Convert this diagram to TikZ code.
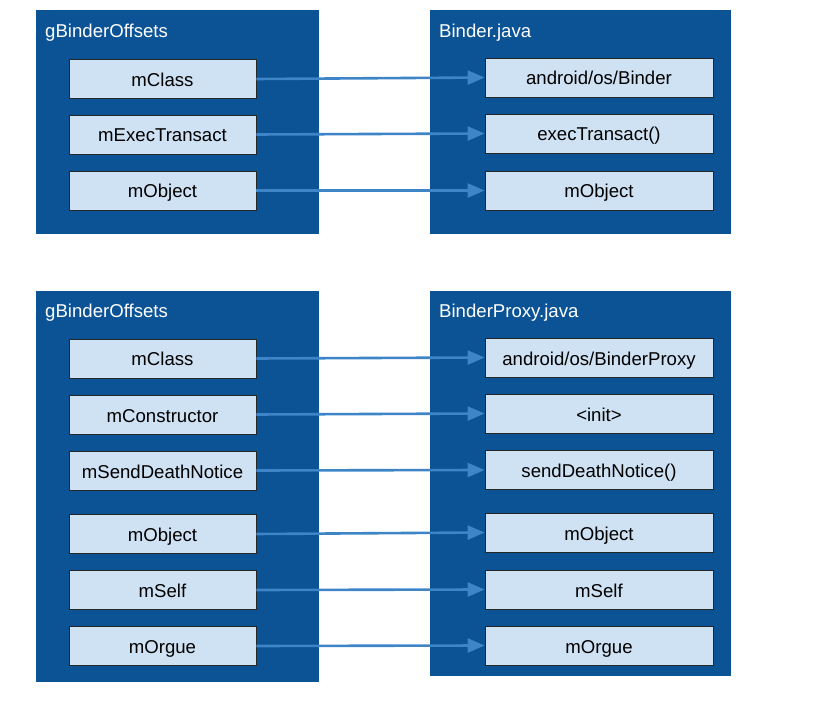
\documentclass[tikz,border=0pt]{standalone}
\usepackage{fontspec}
\setmainfont{Liberation Sans}
\usepackage{xcolor}
\usepackage{tikz}
\usetikzlibrary{arrows.meta,positioning}
\definecolor{panelblue}{HTML}{0B5394}
\definecolor{fieldblue}{HTML}{CFE2F3}
\definecolor{linkblue}{HTML}{3D85C6}

\begin{document}
\begin{tikzpicture}[x=1pt,y=-1pt,
  panel/.style={fill=panelblue,draw=none,anchor=north west,inner sep=0pt},
  field/.style={draw=black!85,line width=0.8pt,fill=fieldblue,minimum height=39pt,
    inner sep=0pt,text height=15pt,text depth=0pt,font=\fontsize{18.6}{22}\selectfont},
  lfield/.style={field,minimum width=187pt},
  rfield/.style={field,minimum width=228pt},
  title/.style={anchor=west,text=white,inner sep=0pt,text height=15pt,text depth=0pt,
    font=\fontsize{18.6}{22}\selectfont},
  link/.style={-{Triangle[length=17pt,width=14pt]},linkblue,line width=2.6pt}
]
\useasboundingbox (0,0) rectangle (820,714);
% upper pair: Binder
\node[panel,minimum width=283pt,minimum height=224pt] (binderoffs) at (36,10) {};
\node[panel,minimum width=301pt,minimum height=224pt] (binderjava) at (430,10) {};
\node[title] (t1) at (45,30.5) {gBinderOffsets};
\node[title] (t2) at (439,30.5) {Binder.java};
\node[lfield] (a1) at (162.5,79) {mClass};
\node[lfield] (a2) at (162.5,134.5) {mExecTransact};
\node[lfield] (a3) at (162.5,190.5) {mObject};
\node[rfield] (b1) at (599,77.5) {android/os/Binder};
\node[rfield] (b2) at (599,133.5) {execTransact()};
\node[rfield] (b3) at (599,190.5) {mObject};
\foreach \i in {1,2,3} \draw[link] (a\i.east) -- (b\i.west);

% lower pair: BinderProxy
\node[panel,minimum width=283pt,minimum height=391pt] (proxyoffs) at (36,291) {};
\node[panel,minimum width=301pt,minimum height=385pt] (proxyjava) at (430,291) {};
\node[title] (t3) at (45,310) {gBinderOffsets};
\node[title] (t4) at (439,310) {BinderProxy.java};
\node[lfield] (c1) at (162.5,358.5) {mClass};
\node[lfield] (c2) at (162.5,414.5) {mConstructor};
\node[lfield] (c3) at (162.5,470.5) {mSendDeathNotice};
\node[lfield] (c4) at (162.5,534) {mObject};
\node[lfield] (c5) at (162.5,590) {mSelf};
\node[lfield] (c6) at (162.5,646) {mOrgue};
\node[rfield] (d1) at (599,357.5) {android/os/BinderProxy};
\node[rfield] (d2) at (599,413.5) {<init>};
\node[rfield] (d3) at (599,470) {sendDeathNotice()};
\node[rfield] (d4) at (599,532.5) {mObject};
\node[rfield] (d5) at (599,589.5) {mSelf};
\node[rfield] (d6) at (599,645.5) {mOrgue};
\foreach \i in {1,...,6} \draw[link] (c\i.east) -- (d\i.west);
\end{tikzpicture}
\end{document}
